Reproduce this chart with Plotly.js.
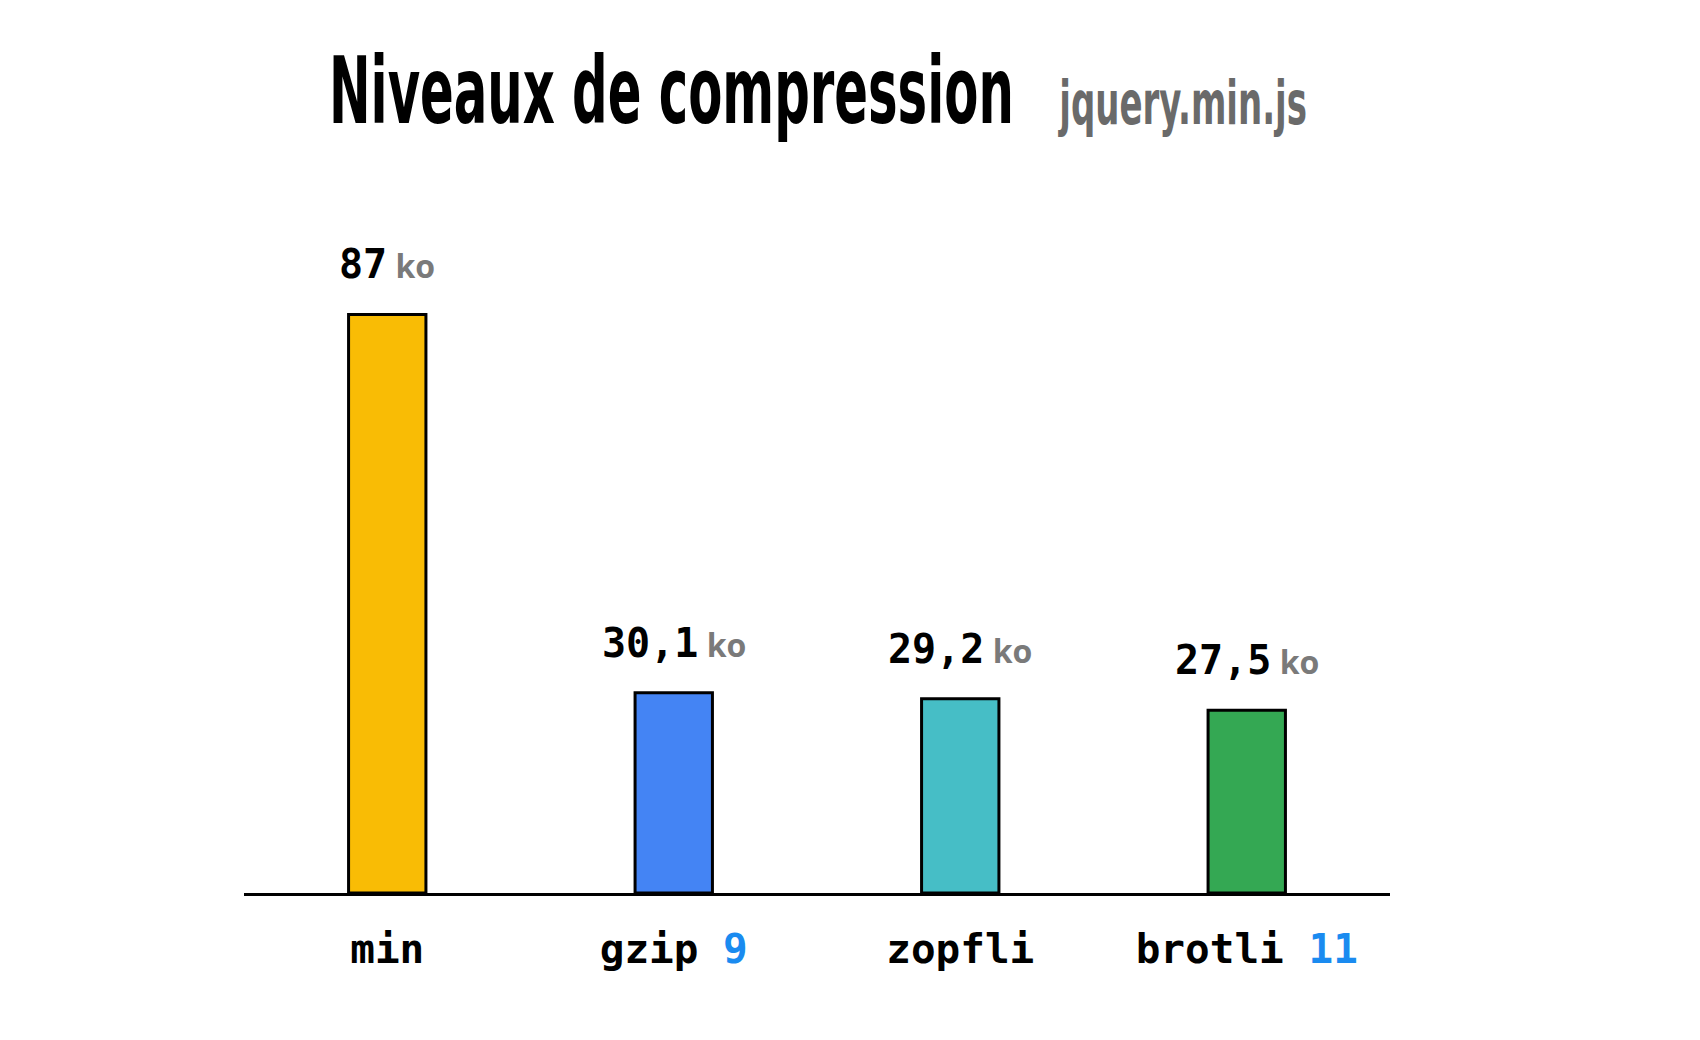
<!DOCTYPE html>
<html>
<head>
<meta charset="utf-8">
<script src="https://cdn.plot.ly/plotly-3.0.1.min.js"></script>
<style>html,body{margin:0;padding:0;background:#fff;}</style>
</head>
<body>
<div id="chart" style="width:1700px;height:1040px;"></div>
<script>
const categories = ["min", "gzip", "zopfli", "brotli"];
const levels = ["", "9", "", "11"];
const sizesKo = [87, 30.1, 29.2, 27.5];
const unit = "ko";
const barColors = ["#F9BC05", "#4484F4", "#46BEC6", "#34A853"];
const titleText = "Niveaux de compression";
const subtitleText = "jquery.min.js";

const tickText = categories.map((c, i) =>
  levels[i] ? `<b>${c} <span style="color:#1A8BF0">${levels[i]}</span></b>` : `<b>${c}</b>`);

const fmt = v => String(v).replace('.', ',');

const trace = {
  type: 'bar',
  x: categories,
  y: sizesKo,
  width: 0.27,
  marker: { color: barColors, line: { color: '#000', width: 3 } },
  hoverinfo: 'none'
};

const annotations = sizesKo.map((v, i) => ({
  x: categories[i], y: v, xref: 'x', yref: 'y',
  xanchor: 'center', yanchor: 'bottom', yshift: 25, showarrow: false,
  text: `<b>${fmt(v)}</b><span style="font-family:Open Sans;font-weight:bold;font-size:32px;color:#7A7A7A">&nbsp;${unit}</span>`,
  font: { family: 'DejaVu Sans Mono', size: 40, color: '#000', weight: 700 }
}));

annotations.push({
  xref: 'paper', yref: 'paper', x: (1057 - 244) / 1146, y: 1 + (228 - 139) / 665,
  xanchor: 'left', yanchor: 'bottom', showarrow: false, borderpad: 0,
  text: subtitleText,
  font: { family: 'Liberation Sans Narrow, DejaVu Sans Condensed, sans-serif', size: 60, color: '#6A6A6A', weight: 700 }
});

const layout = {
  width: 1700, height: 1040,
  margin: { l: 244, r: 310, t: 228, b: 147 },
  paper_bgcolor: '#fff', plot_bgcolor: '#fff',
  showlegend: false,
  title: {
    text: titleText,
    x: 329 / 1700, xanchor: 'left', xref: 'container',
    y: 1 - 123 / 1040, yanchor: 'bottom', yref: 'container',
    font: { family: 'Liberation Sans Narrow, DejaVu Sans Condensed, sans-serif', size: 92, color: '#000', weight: 700 }
  },
  xaxis: {
    type: 'category', range: [-0.5, 3.5],
    tickmode: 'array', tickvals: categories, ticktext: tickText,
    showline: true, linecolor: '#000', linewidth: 3,
    showgrid: false, zeroline: false, ticks: '',
    ticklabelstandoff: 18,
    tickfont: { family: 'DejaVu Sans Mono', size: 41, color: '#000', weight: 700 },
    fixedrange: true
  },
  yaxis: { range: [0, 100], visible: false, fixedrange: true },
  annotations: annotations
};

function squeeze(el, targetLeft, targetWidth) {
  if (!el) return;
  const bb = el.getBBox();
  const sx = targetWidth / bb.width;
  const prev = el.getAttribute('transform') || '';
  const dx = targetLeft - bb.x;
  el.setAttribute('transform',
    `${prev} translate(${bb.x + dx},0) scale(${sx},1) translate(${-bb.x},0)`);
}

Plotly.newPlot('chart', [trace], layout, { displayModeBar: false, staticPlot: true }).then(() => {
  const t = document.querySelector('.gtitle');
  if (t) {
    const bb = t.getBBox();
    squeeze(t, bb.x, 685);
  }
  const anns = document.querySelectorAll('.annotation-text');
  const sub = anns[anns.length - 1];
  if (sub) {
    const bb = sub.getBBox();
    squeeze(sub, bb.x, 249);
  }
});
</script>
</body>
</html>
